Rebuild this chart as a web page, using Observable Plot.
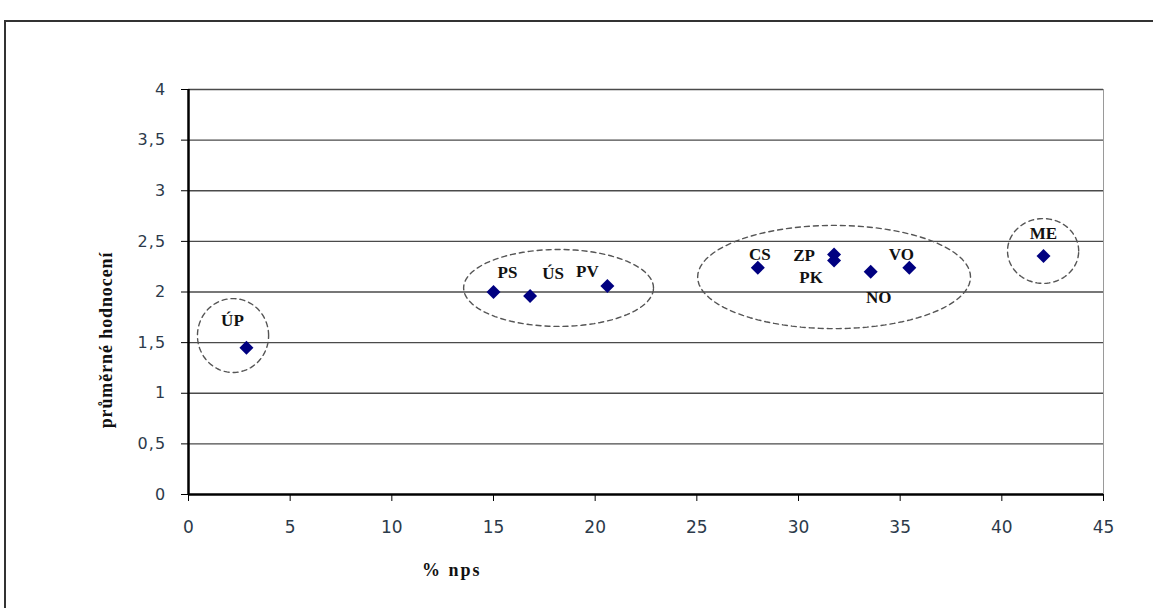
<!DOCTYPE html>
<html>
<head>
<meta charset="utf-8">
<script src="https://cdn.jsdelivr.net/npm/d3@7"></script>
<script src="https://cdn.jsdelivr.net/npm/@observablehq/plot@0.6"></script>
<style>
  html, body { margin: 0; padding: 0; background: #fff; overflow: hidden; }
  #wrap { position: relative; width: 1153px; height: 608px; }
  #frame { position: absolute; left: 4px; top: 20px; width: 1170px; height: 700px; border: 2px solid #333; box-sizing: border-box; }
  #chart { position: absolute; left: 0; top: 0; }
  .axlabel { position: absolute; font-family: "Liberation Serif", serif; font-weight: bold; color: #111; white-space: nowrap; }
  #xlab { left: 422px; top: 560px; font-size: 18px; letter-spacing: 2px; }
  #ylab { left: 106px; top: 340px; font-size: 18px; letter-spacing: 0.9px; transform: translate(-50%, -50%) rotate(-90deg); }
  #chart g[aria-label="y-axis tick label"] text { letter-spacing: 1.2px; }
</style>
</head>
<body>
<div id="wrap">
  <div id="frame"></div>
  <div id="chart"></div>
  <div class="axlabel" id="xlab">% nps</div>
  <div class="axlabel" id="ylab">průměrné hodnocení</div>
</div>
<script>
// Data
const codes  = ["ÚP", "PS", "ÚS", "PV", "CS", "ZP", "PK", "NO", "VO", "ME"];
const npsPct = [2.85, 15.0, 16.8, 20.6, 28.0, 31.75, 31.75, 33.55, 35.45, 42.05];
const rating = [1.45, 2.0, 1.96, 2.06, 2.24, 2.37, 2.31, 2.2, 2.24, 2.355];

const xTicks = [0, 5, 10, 15, 20, 25, 30, 35, 40, 45];
const yTicks = [0, 0.5, 1, 1.5, 2, 2.5, 3, 3.5, 4];

// Group ellipses (center x, center y, radius x, radius y) in data units
const groupCx = [2.19, 18.2, 31.75, 42.03];
const groupCy = [1.57, 2.04, 2.148, 2.405];
const groupRx = [1.75, 4.67, 6.71, 1.75];
const groupRy = [0.365, 0.38, 0.51, 0.32];

// label offsets (pixels) relative to each point
const labelOffset = {
  "ÚP": [-14, -27], "PS": [14, -19], "ÚS": [23, -23], "PV": [-20, -14],
  "CS": [2, -13], "ZP": [-30, 1], "PK": [-23, 17], "NO": [8, 26],
  "VO": [-8, -13], "ME": [0, -23]
};

const points = codes.map((c, i) => ({code: c, x: npsPct[i], y: rating[i]}));

const ellipsePts = [];
groupCx.forEach((cx, g) => {
  const n = 90;
  for (let k = 0; k < n; k++) {
    const t = (k / n) * 2 * Math.PI;
    ellipsePts.push({g, x: cx + groupRx[g] * Math.cos(t), y: groupCy[g] + groupRy[g] * Math.sin(t)});
  }
});

const labelMarks = points.map(p => Plot.text([p], {
  x: "x", y: "y", text: "code",
  dx: labelOffset[p.code][0], dy: labelOffset[p.code][1],
  fontFamily: "Liberation Serif", fontWeight: "bold", fontSize: 17, fill: "#111"
}));

const chart = Plot.plot({
  width: 1153,
  height: 608,
  marginLeft: 188,
  marginRight: 50,
  marginTop: 89,
  marginBottom: 114,
  style: {background: "transparent", overflow: "visible"},
  x: {domain: [0, 45]},
  y: {domain: [0, 4]},
  marks: [
    Plot.ruleY(yTicks.filter(d => d > 0), {stroke: "#4a4a4a", strokeWidth: 1.4}),
    Plot.ruleX([45], {stroke: "#9a9a9a", strokeWidth: 1}),
    Plot.line(ellipsePts, {x: "x", y: "y", z: "g", curve: "linear-closed",
      stroke: "#555", strokeWidth: 1.4, strokeDasharray: "5,4"}),
    Plot.axisY({ticks: yTicks, tickSize: 7, tickPadding: 15, label: null,
      tickFormat: d => String(d).replace(".", ","),
      fontFamily: "DejaVu Sans", fontSize: 16, stroke: "#000", fill: "#2c3a4a"}),
    Plot.axisX({ticks: xTicks, tickSize: 7, tickPadding: 19, label: null,
      fontFamily: "DejaVu Sans", fontSize: 17, stroke: "#000", fill: "#2c3a4a"}),
    Plot.ruleY([0], {stroke: "#000", strokeWidth: 2.5}),
    Plot.ruleX([0], {stroke: "#000", strokeWidth: 2.5}),
    Plot.dot(points, {x: "x", y: "y", symbol: "diamond2", r: 6.3, fill: "#000080", stroke: "none"}),
    ...labelMarks
  ]
});
document.getElementById("chart").appendChild(chart);
</script>
</body>
</html>
